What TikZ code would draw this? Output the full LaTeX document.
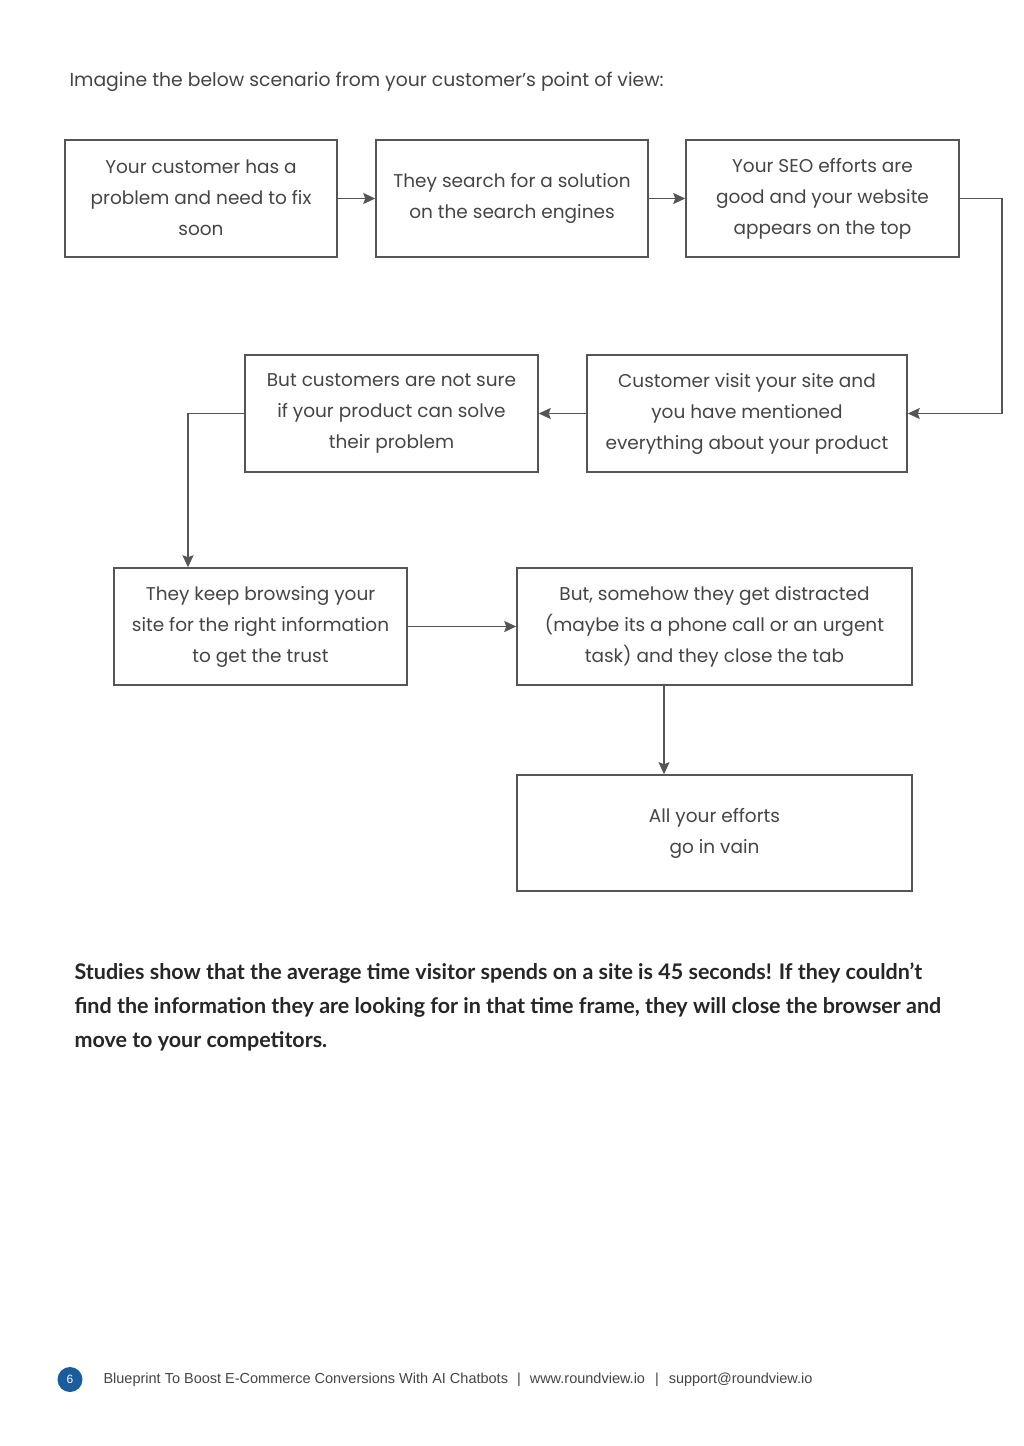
\documentclass[tikz,border=0pt]{standalone}
\usepackage{fontspec}
\setmainfont{Poppins}
\newfontfamily\boldfont{Lato}
\newfontfamily\footfont{Liberation Sans}
\usetikzlibrary{arrows.meta}
\definecolor{linegray}{HTML}{555555}
\definecolor{textgray}{HTML}{454545}
\definecolor{badgeblue}{HTML}{1B5C9C}
\begin{document}
\begin{tikzpicture}[x=1pt,y=-1pt,
  flowbox/.style={draw=linegray, line width=1.5pt, rectangle, inner sep=0pt,
    align=center, text=textgray, font=\fontsize{18.5}{31}\selectfont},
  conn/.style={draw=linegray, line width=1.5pt,
    -{Stealth[length=12pt,width=11pt,inset=2pt]}}]
\useasboundingbox[fill=white] (0,0) rectangle (1024,1446);

\node[anchor=base west, text=textgray, font=\fontsize{18.8}{24}\selectfont] (head) at (66,86)
  {Imagine the below scenario from your customer’s point of view:};

\node[flowbox, minimum width=272pt, minimum height=117pt, text depth=1pt] (b1) at (201,198.5)
  {Your customer has a\\problem and need to fix\\soon};
\node[flowbox, minimum width=272pt, minimum height=117pt] (b2) at (512,198.5)
  {They search for a solution\\on the search engines};
\node[flowbox, minimum width=273pt, minimum height=117pt] (b3) at (822.5,198.5)
  {Your SEO efforts are\\good and your website\\appears on the top};
\node[flowbox, minimum width=320pt, minimum height=117pt] (b5) at (747,413.5)
  {Customer visit your site and\\you have mentioned\\everything about your product};
\node[flowbox, minimum width=293pt, minimum height=117pt] (b4) at (391.5,413.5)
  {But customers are not sure\\if your product can solve\\their problem};
\node[flowbox, minimum width=293pt, minimum height=117pt] (b6) at (260.5,626.5)
  {They keep browsing your\\site for the right information\\to get the trust};
\node[flowbox, minimum width=395pt, minimum height=117pt] (b7) at (714.5,626.5)
  {But, somehow they get distracted\\(maybe its a phone call or an urgent\\task) and they close the tab};
\node[flowbox, minimum width=395pt, minimum height=116pt] (b8) at (714.5,833)
  {All your efforts\\go in vain};

\coordinate (c1) at (1002,198.5);
\coordinate (c2) at (1002,413.5);
\coordinate (c3) at (188,413.5);

\draw[conn] (b1.east) -- (b2.west);
\draw[conn] (b2.east) -- (b3.west);
\draw[conn] (b3.east) -- (c1) -- (c2) -- (b5.east);
\draw[conn] (b5.west) -- (b4.east);
\draw[conn] (b4.west) -- (c3) -- (c3 |- b6.north);
\draw[conn] (b6.east) -- (b7.west);
\draw[conn] (b7.south -| 664,0) -- (b8.north -| 664,0);

\node[anchor=base west, align=left, text=black!85, font=\boldfont\bfseries\fontsize{21.5}{34}\selectfont] (para) at (71,1047)
  {Studies show that the average time visitor spends on a site is 45 seconds! If they couldn’t\\
   find the information they are looking for in that time frame, they will close the browser and\\
   move to your competitors.};

\node[circle, fill=badgeblue, minimum size=25pt, inner sep=0pt, text=white,
  font=\footfont\fontsize{12}{12}\selectfont] (badge) at (70,1379.5) {6};
\node[anchor=west, text=textgray, font=\footfont\fontsize{14.5}{16}\selectfont] (foot) at (100,1379.5)
  {Blueprint To Boost E-Commerce Conversions With AI Chatbots\hspace{9pt}|\hspace{9pt}www.roundview.io\hspace{10pt}|\hspace{10pt}support@roundview.io};
\end{tikzpicture}
\end{document}
